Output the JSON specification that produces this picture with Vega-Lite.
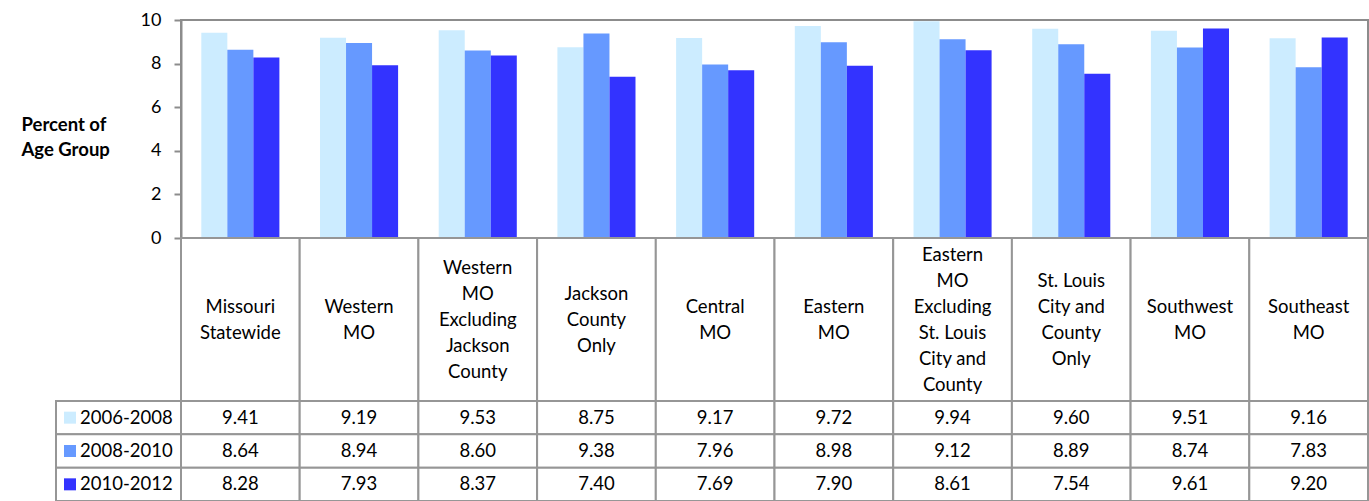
{
  "$schema": "https://vega.github.io/schema/vega-lite/v6.json",
  "padding": {"left": 20, "top": 10, "right": 1, "bottom": 0},
  "background": "white",
  "columns": 2,
  "spacing": 0,
  "bounds": "flush",
  "align": "each",
  "datasets": {
    "main": [
      {"region": "Missouri Statewide", "period": "2006-2008", "value": 9.41},
      {"region": "Missouri Statewide", "period": "2008-2010", "value": 8.64},
      {"region": "Missouri Statewide", "period": "2010-2012", "value": 8.28},
      {"region": "Western MO", "period": "2006-2008", "value": 9.19},
      {"region": "Western MO", "period": "2008-2010", "value": 8.94},
      {"region": "Western MO", "period": "2010-2012", "value": 7.93},
      {"region": "Western MO Excluding Jackson County", "period": "2006-2008", "value": 9.53},
      {"region": "Western MO Excluding Jackson County", "period": "2008-2010", "value": 8.60},
      {"region": "Western MO Excluding Jackson County", "period": "2010-2012", "value": 8.37},
      {"region": "Jackson County Only", "period": "2006-2008", "value": 8.75},
      {"region": "Jackson County Only", "period": "2008-2010", "value": 9.38},
      {"region": "Jackson County Only", "period": "2010-2012", "value": 7.40},
      {"region": "Central MO", "period": "2006-2008", "value": 9.17},
      {"region": "Central MO", "period": "2008-2010", "value": 7.96},
      {"region": "Central MO", "period": "2010-2012", "value": 7.69},
      {"region": "Eastern MO", "period": "2006-2008", "value": 9.72},
      {"region": "Eastern MO", "period": "2008-2010", "value": 8.98},
      {"region": "Eastern MO", "period": "2010-2012", "value": 7.90},
      {"region": "Eastern MO Excluding St. Louis City and County", "period": "2006-2008", "value": 9.94},
      {"region": "Eastern MO Excluding St. Louis City and County", "period": "2008-2010", "value": 9.12},
      {"region": "Eastern MO Excluding St. Louis City and County", "period": "2010-2012", "value": 8.61},
      {"region": "St. Louis City and County Only", "period": "2006-2008", "value": 9.60},
      {"region": "St. Louis City and County Only", "period": "2008-2010", "value": 8.89},
      {"region": "St. Louis City and County Only", "period": "2010-2012", "value": 7.54},
      {"region": "Southwest MO", "period": "2006-2008", "value": 9.51},
      {"region": "Southwest MO", "period": "2008-2010", "value": 8.74},
      {"region": "Southwest MO", "period": "2010-2012", "value": 9.61},
      {"region": "Southeast MO", "period": "2006-2008", "value": 9.16},
      {"region": "Southeast MO", "period": "2008-2010", "value": 7.83},
      {"region": "Southeast MO", "period": "2010-2012", "value": 9.20}
    ],
    "regions": [
      {"region": "Missouri Statewide", "label": "Missouri\nStatewide"},
      {"region": "Western MO", "label": "Western\nMO"},
      {"region": "Western MO Excluding Jackson County", "label": "Western\nMO\nExcluding\nJackson\nCounty"},
      {"region": "Jackson County Only", "label": "Jackson\nCounty\nOnly"},
      {"region": "Central MO", "label": "Central\nMO"},
      {"region": "Eastern MO", "label": "Eastern\nMO"},
      {"region": "Eastern MO Excluding St. Louis City and County", "label": "Eastern\nMO\nExcluding\nSt. Louis\nCity and\nCounty"},
      {"region": "St. Louis City and County Only", "label": "St. Louis\nCity and\nCounty\nOnly"},
      {"region": "Southwest MO", "label": "Southwest\nMO"},
      {"region": "Southeast MO", "label": "Southeast\nMO"}
    ],
    "periods": [
      {"period": "2006-2008"},
      {"period": "2008-2010"},
      {"period": "2010-2012"}
    ]
  },
  "concat": [
    {
      "width": 125,
      "height": 218,
      "data": {"values": [{"a": 1}]},
      "mark": {"type": "point", "opacity": 0}
    },
    {
      "width": 1187,
      "height": 218,
      "data": {"name": "main"},
      "view": {"stroke": "#8c8c8c", "strokeWidth": 2},
      "mark": {"type": "bar"},
      "encoding": {
        "x": {
          "field": "region", "type": "nominal",
          "scale": {"domain": ["Missouri Statewide", "Western MO", "Western MO Excluding Jackson County", "Jackson County Only", "Central MO", "Eastern MO", "Eastern MO Excluding St. Louis City and County", "St. Louis City and County Only", "Southwest MO", "Southeast MO"], "paddingInner": 0, "paddingOuter": 0},
          "axis": null
        },
        "xOffset": {
          "field": "period", "type": "nominal",
          "scale": {"domain": ["2006-2008", "2008-2010", "2010-2012"], "paddingInner": 0, "paddingOuter": 0.78}
        },
        "y": {
          "field": "value", "type": "quantitative",
          "scale": {"domain": [0, 10], "nice": false},
          "axis": {
            "values": [0, 2, 4, 6, 8, 10],
            "grid": false,
            "domainColor": "#8c8c8c", "domainWidth": 2,
            "tickColor": "#8c8c8c", "tickWidth": 2, "tickSize": 7,
            "labelFontSize": 18, "labelColor": "#000", "labelPadding": 13,
            "title": ["Percent of", "Age Group"],
            "titleAngle": 0, "titleAlign": "left", "titleBaseline": "alphabetic",
            "titleX": -160, "titleY": 110, "titleLineHeight": 25,
            "titleFontSize": 18.5, "titleFontWeight": "bold", "titleColor": "#000"
          }
        },
        "color": {
          "field": "period", "type": "nominal",
          "scale": {"domain": ["2006-2008", "2008-2010", "2010-2012"], "range": ["#CCECFF", "#6699FF", "#3333FF"]},
          "legend": null
        }
      }
    },
    {
      "width": 125,
      "height": 163,
      "data": {"values": [{"a": 1}]},
      "mark": {"type": "point", "opacity": 0}
    },
    {
      "width": 1187,
      "height": 163,
      "data": {"name": "regions"},
      "encoding": {
        "x": {
          "field": "region", "type": "nominal",
          "scale": {"domain": ["Missouri Statewide", "Western MO", "Western MO Excluding Jackson County", "Jackson County Only", "Central MO", "Eastern MO", "Eastern MO Excluding St. Louis City and County", "St. Louis City and County Only", "Southwest MO", "Southeast MO"], "paddingInner": 0, "paddingOuter": 0},
          "axis": null
        },
        "text": {"field": "label"}
      },
      "layer": [
        {"mark": {"type": "rect", "fill": "white", "stroke": "#969696", "strokeWidth": 2}},
        {
          "transform": [{"filter": "split(datum.label, '\\n').length == 2"}],
          "mark": {"type": "text", "fontSize": 18.5, "lineBreak": "\n", "lineHeight": 26, "baseline": "middle", "align": "center", "color": "#000", "dy": -13}
        },
        {
          "transform": [{"filter": "split(datum.label, '\\n').length == 3"}],
          "mark": {"type": "text", "fontSize": 18.5, "lineBreak": "\n", "lineHeight": 26, "baseline": "middle", "align": "center", "color": "#000", "dy": -26}
        },
        {
          "transform": [{"filter": "split(datum.label, '\\n').length == 4"}],
          "mark": {"type": "text", "fontSize": 18.5, "lineBreak": "\n", "lineHeight": 26, "baseline": "middle", "align": "center", "color": "#000", "dy": -39}
        },
        {
          "transform": [{"filter": "split(datum.label, '\\n').length == 5"}],
          "mark": {"type": "text", "fontSize": 18.5, "lineBreak": "\n", "lineHeight": 26, "baseline": "middle", "align": "center", "color": "#000", "dy": -52}
        },
        {
          "transform": [{"filter": "split(datum.label, '\\n').length == 6"}],
          "mark": {"type": "text", "fontSize": 18.5, "lineBreak": "\n", "lineHeight": 26, "baseline": "middle", "align": "center", "color": "#000", "dy": -65}
        }
      ]
    },
    {
      "width": 125,
      "height": 100,
      "data": {"name": "periods"},
      "encoding": {
        "y": {
          "field": "period", "type": "nominal",
          "scale": {"domain": ["2006-2008", "2008-2010", "2010-2012"], "paddingInner": 0, "paddingOuter": 0},
          "axis": null
        }
      },
      "layer": [
        {"mark": {"type": "rect", "fill": "white", "stroke": "#969696", "strokeWidth": 2}},
        {
          "mark": {"type": "point", "shape": "M -9.083 -1 H -7.083 V 1 H -9.083 Z", "filled": true, "size": 144, "opacity": 1},
          "encoding": {
            "color": {
              "field": "period", "type": "nominal",
              "scale": {"domain": ["2006-2008", "2008-2010", "2010-2012"], "range": ["#CCECFF", "#6699FF", "#3333FF"]},
              "legend": null
            }
          }
        },
        {
          "mark": {"type": "text", "fontSize": 18.5, "align": "left", "baseline": "middle", "dx": -38.5, "color": "#000"},
          "encoding": {"text": {"field": "period"}}
        }
      ]
    },
    {
      "width": 1187,
      "height": 100,
      "data": {"name": "main"},
      "encoding": {
        "x": {
          "field": "region", "type": "nominal",
          "scale": {"domain": ["Missouri Statewide", "Western MO", "Western MO Excluding Jackson County", "Jackson County Only", "Central MO", "Eastern MO", "Eastern MO Excluding St. Louis City and County", "St. Louis City and County Only", "Southwest MO", "Southeast MO"], "paddingInner": 0, "paddingOuter": 0},
          "axis": null
        },
        "y": {
          "field": "period", "type": "nominal",
          "scale": {"domain": ["2006-2008", "2008-2010", "2010-2012"], "paddingInner": 0, "paddingOuter": 0},
          "axis": null
        }
      },
      "layer": [
        {"mark": {"type": "rect", "fill": "white", "stroke": "#969696", "strokeWidth": 2}},
        {
          "mark": {"type": "text", "fontSize": 18.5, "align": "center", "baseline": "middle", "color": "#000"},
          "encoding": {"text": {"field": "value", "type": "quantitative", "format": ".2f"}}
        }
      ]
    }
  ],
  "config": {
    "font": "Lato",
    "view": {"stroke": null}
  }
}
